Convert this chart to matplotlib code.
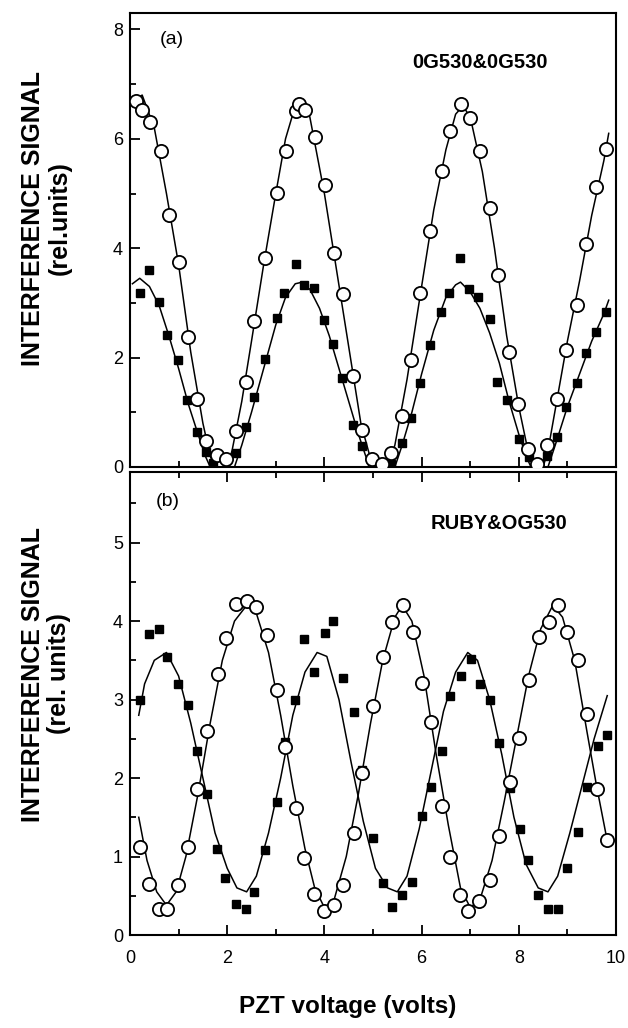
import numpy as np
import matplotlib
matplotlib.use("Agg")
import matplotlib.pyplot as plt
from matplotlib.ticker import MultipleLocator

plt.rcParams['font.family'] = ['Liberation Sans', 'DejaVu Sans']

# ---- panel (a) 0G530&0G530 ----
a_circ_x = [0.12, 0.24, 0.42, 0.64, 0.80, 1.00, 1.19, 1.37, 1.57, 1.78, 1.97, 2.19, 2.38, 2.56,
            2.78, 3.02, 3.21, 3.41, 3.47, 3.60, 3.81, 4.02, 4.19, 4.39, 4.59, 4.78, 4.97, 5.18,
            5.37, 5.59, 5.78, 5.96, 6.18, 6.42, 6.59, 6.81, 6.99, 7.21, 7.41, 7.58, 7.79, 7.99,
            8.18, 8.37, 8.59, 8.78, 8.98, 9.19, 9.38, 9.58, 9.80]
a_circ_y = [6.69, 6.53, 6.30, 5.78, 4.61, 3.74, 2.37, 1.25, 0.48, 0.22, 0.15, 0.66, 1.55, 2.67,
            3.82, 5.01, 5.78, 6.50, 6.64, 6.53, 6.04, 5.15, 3.91, 3.16, 1.66, 0.68, 0.15, 0.05,
            0.25, 0.93, 1.95, 3.18, 4.32, 5.42, 6.15, 6.64, 6.38, 5.78, 4.74, 3.51, 2.11, 1.16,
            0.32, 0.05, 0.41, 1.25, 2.14, 2.96, 4.07, 5.11, 5.81]
a_sq_x = [0.20, 0.40, 0.60, 0.77, 0.98, 1.17, 1.37, 1.57, 1.70, 2.19, 2.39, 2.56, 2.78, 3.02,
          3.17, 3.41, 3.57, 3.79, 3.99, 4.17, 4.37, 4.59, 4.78, 4.98, 5.37, 5.59, 5.78, 5.96,
          6.18, 6.40, 6.56, 6.80, 6.97, 7.17, 7.40, 7.55, 7.75, 8.00, 8.20, 8.40, 8.59, 8.79,
          8.98, 9.19, 9.38, 9.58, 9.80]
a_sq_y = [3.19, 3.61, 3.02, 2.41, 1.95, 1.22, 0.64, 0.27, 0.08, 0.26, 0.73, 1.28, 1.98, 2.73,
          3.18, 3.72, 3.33, 3.27, 2.69, 2.24, 1.62, 0.76, 0.38, 0.08, 0.06, 0.43, 0.89, 1.53,
          2.23, 2.84, 3.18, 3.82, 3.25, 3.10, 2.71, 1.56, 1.22, 0.52, 0.18, 0.05, 0.21, 0.55,
          1.10, 1.53, 2.08, 2.46, 2.84]

a_circ_fit_x = [0.10, 0.25, 0.50, 0.75, 1.00, 1.25, 1.50, 1.65, 1.75, 2.00, 2.10, 2.30, 2.50,
                2.75, 3.00, 3.20, 3.40, 3.50, 3.70, 4.00, 4.25, 4.50, 4.75, 4.95, 5.05, 5.30,
                5.45, 5.70, 6.00, 6.25, 6.50, 6.70, 6.85, 7.00, 7.25, 7.50, 7.75, 8.00, 8.20,
                8.30, 8.50, 8.60, 8.80, 9.00, 9.25, 9.50, 9.75, 9.85]
a_circ_fit_y = [6.70, 6.80, 6.20, 5.00, 3.70, 2.10, 0.80, 0.20, 0.00, 0.00, 0.30, 1.20, 2.30,
                3.70, 5.00, 6.00, 6.60, 6.70, 6.40, 5.00, 3.60, 2.20, 0.80, 0.15, 0.00, 0.00,
                0.40, 1.60, 3.30, 4.70, 5.80, 6.45, 6.60, 6.40, 5.40, 4.00, 2.40, 1.10, 0.25,
                0.00, 0.00, 0.30, 1.30, 2.30, 3.40, 4.60, 5.60, 6.10]
a_sq_fit_x = [0.05, 0.20, 0.40, 0.60, 0.80, 1.00, 1.20, 1.40, 1.55, 1.65, 2.15, 2.30, 2.50,
              2.75, 3.00, 3.20, 3.40, 3.50, 3.70, 3.90, 4.10, 4.30, 4.50, 4.70, 4.85, 4.95,
              5.45, 5.60, 5.80, 6.00, 6.25, 6.50, 6.70, 6.80, 7.00, 7.20, 7.40, 7.60, 7.80,
              8.00, 8.15, 8.25, 8.60, 8.75, 9.00, 9.25, 9.50, 9.75, 9.85]
a_sq_fit_y = [3.35, 3.45, 3.30, 2.95, 2.40, 1.80, 1.15, 0.60, 0.20, 0.00, 0.00, 0.40, 1.00,
              1.80, 2.60, 3.10, 3.35, 3.37, 3.25, 2.90, 2.40, 1.80, 1.20, 0.60, 0.20, 0.00,
              0.00, 0.40, 1.00, 1.70, 2.50, 3.10, 3.33, 3.38, 3.20, 2.90, 2.45, 1.90, 1.20,
              0.60, 0.20, 0.00, 0.00, 0.40, 1.10, 1.70, 2.30, 2.80, 3.05]

# ---- panel (b) RUBY&OG530 ----
b_circ_x = [0.20, 0.40, 0.60, 0.77, 0.98, 1.20, 1.37, 1.59, 1.81, 1.98, 2.19, 2.41, 2.60, 2.82,
            3.03, 3.19, 3.42, 3.57, 3.79, 3.99, 4.19, 4.39, 4.60, 4.77, 5.00, 5.21, 5.40, 5.61,
            5.83, 6.00, 6.20, 6.41, 6.59, 6.78, 6.95, 7.18, 7.40, 7.60, 7.81, 8.01, 8.20, 8.42,
            8.63, 8.80, 9.00, 9.22, 9.40, 9.60, 9.82]
b_circ_y = [1.12, 0.65, 0.33, 0.33, 0.64, 1.12, 1.86, 2.60, 3.32, 3.78, 4.22, 4.26, 4.18, 3.82,
            3.12, 2.40, 1.62, 0.98, 0.52, 0.30, 0.38, 0.64, 1.30, 2.06, 2.92, 3.54, 3.99, 4.20,
            3.86, 3.21, 2.72, 1.65, 0.99, 0.51, 0.30, 0.43, 0.70, 1.26, 1.95, 2.51, 3.25, 3.80,
            3.99, 4.20, 3.86, 3.50, 2.81, 1.86, 1.21]
b_sq_x = [0.20, 0.40, 0.60, 0.77, 0.99, 1.20, 1.37, 1.59, 1.79, 1.96, 2.19, 2.39, 2.56, 2.78,
          3.02, 3.19, 3.40, 3.59, 3.79, 4.01, 4.18, 4.39, 4.60, 4.78, 4.99, 5.21, 5.40, 5.60,
          5.80, 6.00, 6.20, 6.41, 6.59, 6.82, 7.01, 7.20, 7.41, 7.59, 7.81, 8.03, 8.18, 8.40,
          8.61, 8.80, 9.00, 9.22, 9.40, 9.62, 9.82]
b_sq_y = [3.00, 3.84, 3.90, 3.54, 3.20, 2.93, 2.34, 1.80, 1.09, 0.73, 0.39, 0.33, 0.55, 1.08,
          1.70, 2.46, 3.00, 3.77, 3.35, 3.85, 4.00, 3.27, 2.84, 2.10, 1.24, 0.66, 0.36, 0.51,
          0.67, 1.52, 1.89, 2.34, 3.05, 3.30, 3.52, 3.20, 3.00, 2.45, 1.87, 1.35, 0.95, 0.51,
          0.33, 0.33, 0.86, 1.31, 1.88, 2.41, 2.55]

b_circ_fit_x = [0.18, 0.35, 0.55, 0.75, 0.95, 1.15, 1.40, 1.65, 1.90, 2.15, 2.40, 2.60, 2.85,
                3.10, 3.35, 3.60, 3.80, 4.00, 4.20, 4.45, 4.70, 4.95, 5.20, 5.45, 5.60, 5.80,
                6.05, 6.30, 6.55, 6.80, 7.00, 7.20, 7.45, 7.70, 7.95, 8.20, 8.45, 8.70, 8.90,
                9.15, 9.40, 9.60, 9.82]
b_circ_fit_y = [1.50, 0.95, 0.55, 0.38, 0.55, 1.00, 1.80, 2.70, 3.50, 4.00, 4.20, 4.10, 3.60,
                2.80, 1.90, 1.10, 0.60, 0.35, 0.45, 1.00, 1.80, 2.70, 3.50, 4.05, 4.20, 4.00,
                3.30, 2.30, 1.40, 0.60, 0.35, 0.45, 0.95, 1.70, 2.50, 3.30, 3.90, 4.20, 4.05,
                3.50, 2.60, 1.90, 1.20]
b_sq_fit_x = [0.18, 0.30, 0.50, 0.75, 1.00, 1.25, 1.50, 1.75, 2.00, 2.20, 2.40, 2.60, 2.85,
              3.10, 3.35, 3.60, 3.85, 4.05, 4.30, 4.55, 4.80, 5.05, 5.30, 5.50, 5.70, 5.95,
              6.20, 6.45, 6.70, 6.95, 7.15, 7.40, 7.65, 7.90, 8.15, 8.40, 8.60, 8.80, 9.05,
              9.30, 9.55, 9.82]
b_sq_fit_y = [2.80, 3.20, 3.50, 3.60, 3.30, 2.70, 2.00, 1.30, 0.85, 0.60, 0.55, 0.75, 1.30,
              2.00, 2.80, 3.35, 3.60, 3.55, 3.00, 2.20, 1.45, 0.85, 0.60, 0.55, 0.75, 1.35,
              2.10, 2.85, 3.35, 3.60, 3.50, 3.00, 2.30, 1.50, 0.90, 0.60, 0.55, 0.75, 1.30,
              1.90, 2.50, 3.05]

fig = plt.figure(figsize=(6.28, 10.28), dpi=100)
ax1 = fig.add_axes([130/628, 1 - 467/1028, 486/628, 454/1028])
ax2 = fig.add_axes([130/628, 1 - 935/1028, 486/628, 463/1028])

def draw(ax, cx, cy, sx, sy, cfx, cfy, sfx, sfy):
    ax.plot(cfx, cfy, color='black', lw=1.1, zorder=2)
    ax.plot(sfx, sfy, color='black', lw=1.1, zorder=2)
    ax.plot(sx, sy, 's', color='black', ms=5.5, zorder=3)
    ax.plot(cx, cy, 'o', mfc='white', mec='black', mew=1.3, ms=9.5, zorder=4)
    ax.set_xlim(0, 10)
    for s in ax.spines.values():
        s.set_linewidth(1.5)
    ax.tick_params(direction='in', which='both', labelsize=13, width=1.3)
    ax.tick_params(which='major', length=7)
    ax.tick_params(which='minor', length=4)
    ax.tick_params(axis='y', pad=5)
    ax.tick_params(axis='x', pad=11)

draw(ax1, a_circ_x, a_circ_y, a_sq_x, a_sq_y, a_circ_fit_x, a_circ_fit_y, a_sq_fit_x, a_sq_fit_y)
draw(ax2, b_circ_x, b_circ_y, b_sq_x, b_sq_y, b_circ_fit_x, b_circ_fit_y, b_sq_fit_x, b_sq_fit_y)

ax1.set_ylim(0, 8.3)
ax1.yaxis.set_major_locator(MultipleLocator(2))
ax1.yaxis.set_minor_locator(MultipleLocator(1))
ax1.xaxis.set_major_locator(MultipleLocator(2))
ax1.xaxis.set_minor_locator(MultipleLocator(1))
ax1.tick_params(axis='x', labelbottom=False)

ax2.set_ylim(0, 5.9)
ax2.yaxis.set_major_locator(MultipleLocator(1))
ax2.yaxis.set_minor_locator(MultipleLocator(0.5))
ax2.xaxis.set_major_locator(MultipleLocator(2))
ax2.xaxis.set_minor_locator(MultipleLocator(1))
ax2.tick_params(axis='x', which='both', top=True)

ax1.text(0.62, 7.82, '(a)', fontsize=14, va='center')
ax1.text(7.2, 7.4, '0G530&0G530', fontsize=14.5, fontweight='bold', ha='center', va='center')
ax2.text(0.52, 5.53, '(b)', fontsize=14, va='center')
ax2.text(7.6, 5.24, 'RUBY&OG530', fontsize=14.5, fontweight='bold', ha='center', va='center')

fig.text(46/628, 1 - 218/1028, 'INTERFERENCE SIGNAL\n(rel.units)', rotation=90, ha='center',
         va='center', fontsize=18, fontweight='bold', linespacing=1.15)
fig.text(46/628, 1 - 674/1028, 'INTERFERENCE SIGNAL\n(rel. units)', rotation=90, ha='center',
         va='center', fontsize=18, fontweight='bold', linespacing=1.15)
fig.text(348/628, 1 - 1006/1028, 'PZT voltage (volts)', ha='center', va='center',
         fontsize=17.5, fontweight='bold')

fig.savefig('out.png', dpi=100)
